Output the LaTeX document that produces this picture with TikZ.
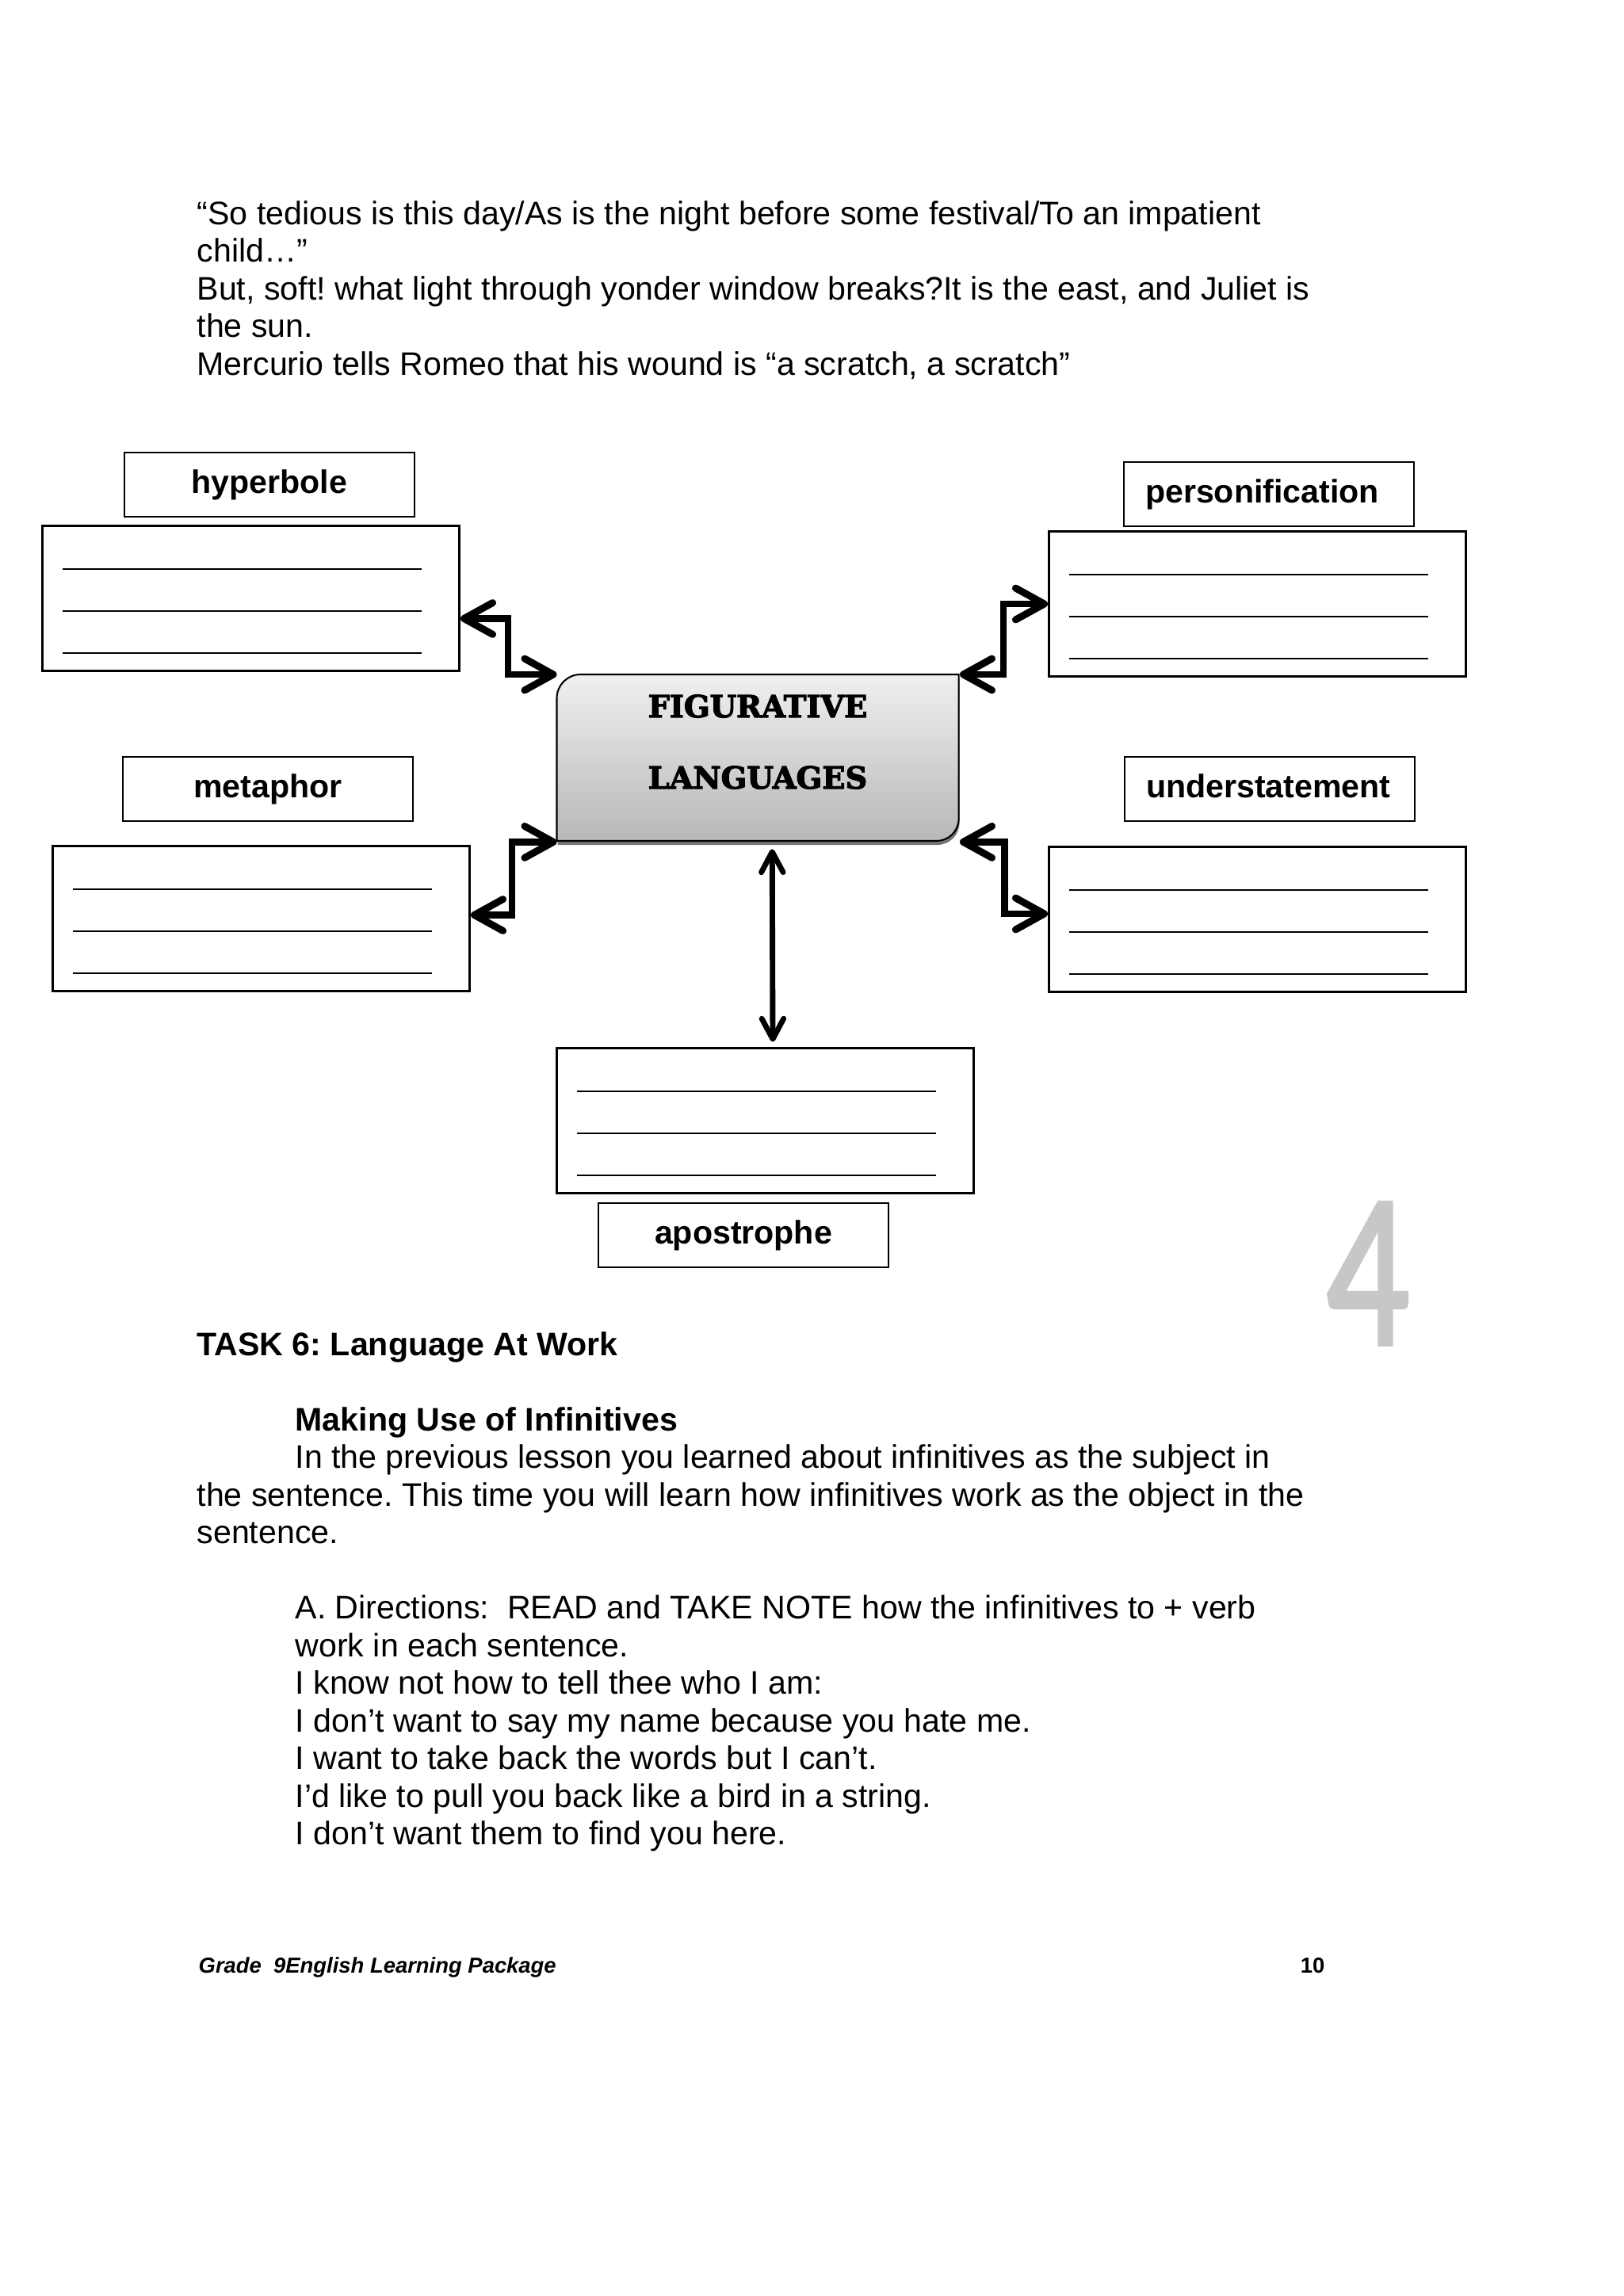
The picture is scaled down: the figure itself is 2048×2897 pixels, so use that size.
\documentclass[tikz,border=0pt]{standalone}
\usepackage{fontspec}
\setmainfont{Liberation Sans}
\newfontfamily\carl{Carlito}[FakeBold=2]
\newfontfamily\figfont{DejaVu Serif}[BoldFeatures={FakeBold=3}]
\usetikzlibrary{arrows.meta,calc}
\frenchspacing
\begin{document}
\begin{tikzpicture}[x=0.29068bp, y=-0.29068bp,
  lbl/.style={draw=black, line width=0.58bp, rectangle, inner sep=0pt,
    minimum width=106.39bp, minimum height=23.545bp, text height=9pt, text depth=2.5pt,
    font=\fontsize{12}{14}\selectfont\bfseries, anchor=north west},
  lblL/.style={lbl, inner xsep=7.85bp, text width=90.69bp, align=left},
  ans/.style={draw=black, line width=0.87bp, rectangle, inner sep=0pt,
    minimum width=152.9bp, minimum height=53.19bp, anchor=north west},
  blank/.style={line width=0.58bp},
  elb/.style={line width=2.6bp,
    {Straight Barb[length=10.5bp,width=11.6bp,round]}-{Straight Barb[length=10.5bp,width=11.6bp,round]}},
  vert/.style={line width=2bp,
    {Straight Barb[length=7.5bp,width=8bp,round]}-{Straight Barb[length=7.5bp,width=8bp,round]}},
  body/.style={anchor=base west, inner sep=0pt, font=\fontsize{12}{14}\selectfont},
  bodyb/.style={body, font=\fontsize{12}{14}\selectfont\bfseries},
  figtxt/.style={anchor=base, inner sep=0pt, font=\figfont\bfseries\fontsize{11.2}{13}\selectfont}
]
\useasboundingbox[fill=white] (0,0) rectangle (2048,2897);

% top quotations
\node[body] (t1) at (248,283.3) {“So tedious is this day/As is the night before some festival/To an impatient};
\node[body] (t2) at (248,330.8) {child…”};
\node[body] (t3) at (248,378.3) {But, soft! what light through yonder window breaks?It is the east, and Juliet is};
\node[body] (t4) at (248,425.8) {the sun.};
\node[body] (t5) at (248,473.3) {Mercurio tells Romeo that his wound is “a scratch, a scratch”};

% labels
\node[lbl] (hypL) at (156,570) {hyperbole};
\node[lblL] (persL) at (1417,582) {personification};
\node[lbl] (metaL) at (154,954) {metaphor};
\node[lblL] (underL) at (1418,954) {understatement};
\node[lbl] (aposL) at (754,1517) {apostrophe};

% answer boxes
\node[ans] (hypA) at (52,662) {};
\node[ans] (persA) at (1322,669) {};
\node[ans] (metaA) at (65,1066) {};
\node[ans] (underA) at (1322,1067) {};
\node[ans] (aposA) at (701,1321) {};
\foreach \b in {hypA,persA,metaA,underA,aposA}{
  \foreach \dy in {56,109,162}{
    \draw[blank] ($(\b.north west)+(27,\dy)$) -- ++(453,0);
  }
}

% centre box
\node[minimum width=147.4bp, minimum height=61.04bp, inner sep=0pt, anchor=north west] (fig) at (702.5,851) {};
\fill[black!55, shift={(1,5)}] (702.5,881) .. controls (702.5,864.4) and (715.9,851) .. (732.5,851)
  -- (1209.6,851) -- (1209.6,1033) .. controls (1209.6,1048.5) and (1197.1,1061) .. (1181.6,1061)
  -- (702.5,1061) -- cycle;
\draw[line width=0.6bp, top color=black!6, bottom color=black!28]
  (702.5,881) .. controls (702.5,864.4) and (715.9,851) .. (732.5,851)
  -- (1209.6,851) -- (1209.6,1033) .. controls (1209.6,1048.5) and (1197.1,1061) .. (1181.6,1061)
  -- (702.5,1061) -- cycle;
\node[figtxt] (figT1) at (956,905) {FIGURATIVE};
\node[figtxt] (figT2) at (956,995) {LANGUAGES};

% connectors
\draw[elb] ($(hypA.east)+(0,25.5)$) -- ++(60,0) |- (fig.north west);
\draw[elb] (persA.west) -- ++(-56,0) |- (fig.north east);
\draw[elb] (fig.south west) -- ++(-56.5,0) |- ($(metaA.east)+(0,-4.5)$);
\draw[elb] (fig.south east) -- ++(56.4,0) |- ($(underA.west)+(0,-7)$);
\draw[vert] ($(fig.south)+(17.5,9)$) -- ($(aposA.north)+(9.5,-6.5)$);

% page number mark
\node[anchor=base west, inner sep=0pt, text=black!22, font=\carl\fontsize{81}{81}\selectfont] (pg) at (1672,1696) {\scalebox{0.75}[1]{4}};

% task text
\node[bodyb] (task) at (248,1710.7) {TASK 6: Language At Work};
\node[bodyb] (mk) at (372,1805.7) {Making Use of Infinitives};
\node[body] (p1) at (372,1852.7) {In the previous lesson you learned about infinitives as the subject in};
\node[body] (p2) at (248,1900.2) {the sentence. This time you will learn how infinitives work as the object in the};
\node[body] (p3) at (248,1947.7) {sentence.};
\node[body] (d1) at (372,2042.7) {A. Directions:\ \ READ and TAKE NOTE how the infinitives to + verb};
\node[body] (d2) at (372,2090.2) {work in each sentence.};
\node[body] (s1) at (372,2137.7) {I know not how to tell thee who I am:};
\node[body] (s2) at (372,2185.2) {I don’t want to say my name because you hate me.};
\node[body] (s3) at (372,2232.7) {I want to take back the words but I can’t.};
\node[body] (s4) at (372,2280.2) {I’d like to pull you back like a bird in a string.};
\node[body] (s5) at (372,2327.7) {I don’t want them to find you here.};

% footer
\node[anchor=base west, inner sep=0pt, font=\fontsize{8}{9.6}\selectfont\bfseries\itshape] (foot) at (250,2489.3) {Grade\ \ 9English Learning Package};
\node[anchor=base east, inner sep=0pt, font=\fontsize{8}{9.6}\selectfont\bfseries] (pnum) at (1672,2489.3) {10};
\end{tikzpicture}
\end{document}
